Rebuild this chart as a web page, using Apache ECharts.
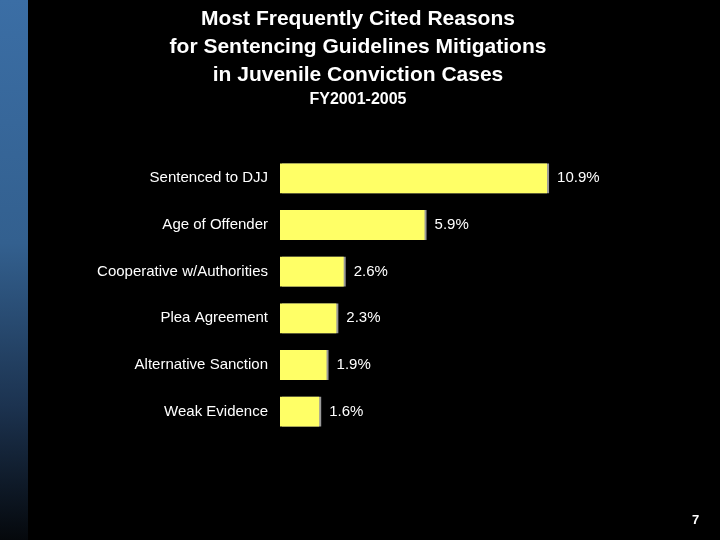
<!DOCTYPE html>
<html><head><meta charset="utf-8">
<script src="https://cdn.jsdelivr.net/npm/echarts@6/dist/echarts.min.js"></script>
<style>html,body{margin:0;padding:0;background:#000}#c{width:720px;height:540px}</style>
</head><body><div id="c"></div>
<script>
const categories = ['Sentenced to DJJ','Age of Offender','Cooperative w/Authorities','Plea Agreement','Alternative Sanction','Weak Evidence'];
const values = [10.9, 5.9, 2.6, 2.3, 1.9, 1.6];
const chart = echarts.init(document.getElementById('c'));
chart.setOption({
  backgroundColor: '#000',
  animation: false,
  graphic: [
    {type:'rect', left:0, top:0, shape:{width:28, height:540}, silent:true,
     style:{fill:new echarts.graphic.LinearGradient(0,0,0,1,[{offset:0,color:'#3b6ea5'},{offset:0.45,color:'#33608f'},{offset:0.75,color:'#1c3350'},{offset:1,color:'#05080c'}])}},
    {type:'text', x:358, y:5, style:{text:'Most Frequently Cited Reasons\nfor Sentencing Guidelines Mitigations\nin Juvenile Conviction Cases', fill:'#fff', font:'bold 21px Liberation Sans, Arial', textAlign:'center', align:'center', lineHeight:28}},
    {type:'text', x:358, y:92, style:{text:'FY2001-2005', fill:'#fff', font:'bold 16px Liberation Sans, Arial', textAlign:'center', align:'center'}},
    {type:'text', left:692, top:514, style:{text:'7', fill:'#fff', font:'bold 13px Liberation Sans, Arial'}}
  ],
  grid: {left:280, right:146, top:155, bottom:105},
  xAxis: {type:'value', min:0, max:12, show:false},
  yAxis: {type:'category', data:categories, inverse:true,
    axisLine:{show:false}, axisTick:{show:false},
    axisLabel:{color:'#fff', fontSize:15, fontFamily:'Liberation Sans, Arial', margin:12}},
  series: [{type:'bar', data:values, barCategoryGap:'36%',
    itemStyle:{color:'#ffff66', shadowColor:'#999', shadowOffsetX:2, shadowBlur:0},
    label:{show:true, position:'right', distance:10, color:'#fff', fontSize:15, fontFamily:'Liberation Sans, Arial', formatter: p => p.value.toFixed(1)+'%'}}]
});
</script></body></html>
